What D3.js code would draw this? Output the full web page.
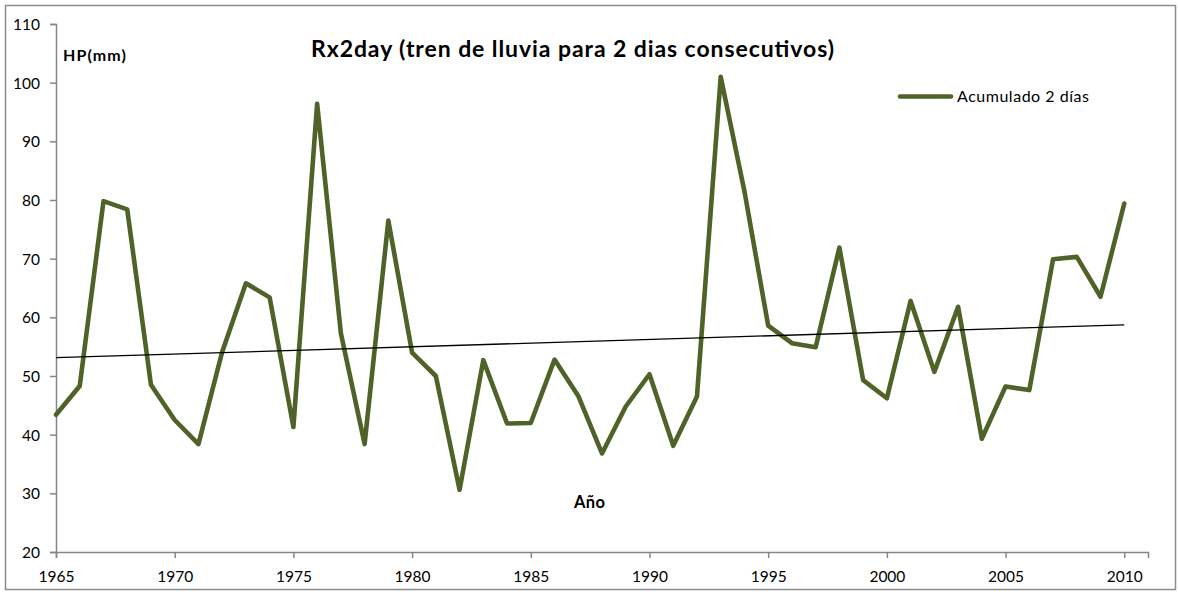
<!DOCTYPE html>
<html>
<head>
<meta charset="utf-8">
<script src="https://cdn.jsdelivr.net/npm/d3@7"></script>
<style>
  html, body { margin: 0; padding: 0; background: #fff; }
  svg { display: block; font-family: Lato, "Open Sans", sans-serif; }
</style>
</head>
<body>
<svg id="chart" width="1178" height="592"></svg>
<script>
// Annual maximum 2-day accumulated rainfall (mm)
const years = d3.range(1965, 2011);
const acumulado2dias = [
  43.4, 48.3, 79.8, 78.4, 48.5, 42.5, 38.4, 54.1, 65.8, 63.4,
  41.3, 96.4, 57.3, 38.4, 76.5, 54.0, 50.0, 30.6, 52.7, 41.9,
  42.0, 52.8, 46.6, 36.8, 44.8, 50.3, 38.1, 46.5, 101.0, 81.5,
  58.6, 55.6, 54.9, 71.9, 49.3, 46.2, 62.8, 50.7, 61.8, 39.3,
  48.2, 47.6, 69.9, 70.3, 63.5, 79.4
];
const xTicks = [1965, 1970, 1975, 1980, 1985, 1990, 1995, 2000, 2005, 2010];
const yTicks = [20, 30, 40, 50, 60, 70, 80, 90, 100, 110];

const titleText = "Rx2day (tren de lluvia para 2 dias consecutivos)";
const yLabel = "HP(mm)";
const xLabel = "Año";
const seriesName = "Acumulado 2 días";

const lineColor = "#4f6228";
const axisColor = "#868686";

const svg = d3.select("#chart");

// outer chart frame
svg.append("rect")
  .attr("x", 5.5).attr("y", 5.5)
  .attr("width", 1170).attr("height", 584)
  .attr("fill", "#fff")
  .attr("stroke", "#8c8c8c").attr("stroke-width", 1.5);

const plot = { left: 56, right: 1148, top: 24, bottom: 552 };

const x = d3.scaleLinear().domain([1965, 2011]).range([plot.left, plot.right]);
const y = d3.scaleLinear().domain([20, 110]).range([plot.bottom, plot.top]);

// y axis
const gy = svg.append("g")
  .attr("transform", `translate(${plot.left},0)`)
  .call(d3.axisLeft(y).tickValues(yTicks).tickSize(6).tickPadding(10).tickFormat(d3.format("d")));
gy.select(".domain").attr("stroke", axisColor).attr("stroke-width", 1.5);
gy.selectAll(".tick line").attr("stroke", axisColor).attr("stroke-width", 1.5);
gy.selectAll(".tick text")
  .attr("font-family", "Lato, sans-serif").attr("font-size", 15.5)
  .attr("fill", "#000").attr("dy", "0.36em");

// x axis
const gx = svg.append("g")
  .attr("transform", `translate(0,${plot.bottom})`)
  .call(d3.axisBottom(x).tickValues(xTicks).tickSize(6).tickFormat(d3.format("d")));
gx.select(".domain").attr("stroke", axisColor).attr("stroke-width", 1.5);
gx.selectAll(".tick line").attr("stroke", axisColor).attr("stroke-width", 1.5);
gx.selectAll(".tick text")
  .attr("font-family", "Lato, sans-serif").attr("font-size", 15.5)
  .attr("fill", "#000").attr("y", 29.5).attr("dy", 0);

// data series
const pts = years.map((yr, i) => [yr, acumulado2dias[i]]);
const line = d3.line().x(d => x(d[0])).y(d => y(d[1]));
svg.append("path")
  .datum(pts)
  .attr("d", line)
  .attr("fill", "none")
  .attr("stroke", lineColor)
  .attr("stroke-width", 4.6)
  .attr("stroke-linejoin", "round")
  .attr("stroke-linecap", "round");

// least-squares linear trend
const mx = d3.mean(years), my = d3.mean(acumulado2dias);
const slope = d3.sum(years, (yr, i) => (yr - mx) * (acumulado2dias[i] - my)) /
              d3.sum(years, yr => (yr - mx) * (yr - mx));
const icpt = my - slope * mx;
const trend = [years[0], years[years.length - 1]].map(yr => [yr, icpt + slope * yr]);
svg.append("path")
  .datum(trend)
  .attr("d", line)
  .attr("fill", "none")
  .attr("stroke", "#000")
  .attr("stroke-width", 1.3);

// titles and labels
svg.append("text")
  .attr("x", 311).attr("y", 57)
  .attr("font-weight", "bold").attr("font-size", 23)
  .attr("textLength", 523).attr("lengthAdjust", "spacing")
  .text(titleText);

svg.append("text")
  .attr("x", 63).attr("y", 61)
  .attr("font-weight", "bold").attr("font-size", 16)
  .attr("textLength", 63).attr("lengthAdjust", "spacing")
  .text(yLabel);

svg.append("text")
  .attr("x", 574).attr("y", 508)
  .attr("font-weight", "bold").attr("font-size", 16.5)
  .attr("textLength", 31).attr("lengthAdjust", "spacing")
  .text(xLabel);

// legend
const lg = svg.append("g");
lg.append("line")
  .attr("x1", 900).attr("x2", 951)
  .attr("y1", 96.5).attr("y2", 96.5)
  .attr("stroke", lineColor).attr("stroke-width", 4.6)
  .attr("stroke-linecap", "round");
lg.append("text")
  .attr("x", 957).attr("y", 102)
  .attr("font-size", 16)
  .attr("textLength", 132).attr("lengthAdjust", "spacing")
  .text(seriesName);
</script>
</body>
</html>
